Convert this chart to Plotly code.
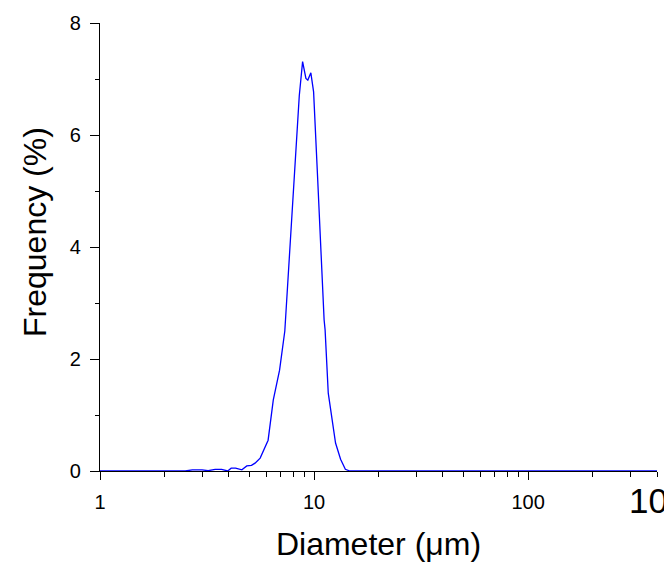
import plotly.graph_objects as go

# Particle size distribution
diameter_um = [1.0, 2.5, 2.7, 3.0, 3.2, 3.45, 3.7, 3.95, 4.1, 4.3, 4.6, 4.85, 5.1, 5.3,
               5.6, 5.9, 6.1, 6.45, 6.9, 7.3, 7.74, 8.16, 8.53, 8.84, 9.16, 9.35, 9.66,
               9.95, 10.3, 10.4, 11.14, 11.26, 11.65, 12.1, 12.6, 13.3, 14.0, 14.7, 400.0]
frequency_pct = [0.0, 0.0, 0.02, 0.02, 0.005, 0.03, 0.03, 0.0, 0.05, 0.05, 0.02, 0.09, 0.1, 0.14,
                 0.23, 0.43, 0.55, 1.27, 1.8, 2.5, 4.04, 5.4, 6.7, 7.31, 7.01, 6.98, 7.11,
                 6.77, 5.4, 5.2, 2.7, 2.52, 1.39, 0.91, 0.5, 0.21, 0.03, 0.0, 0.0]

x_major_ticks = [1, 10, 100]
x_major_labels = ["1", "10", "100"]
x_minor_ticks = [2, 3, 4, 5, 6, 7, 8, 9, 20, 30, 40, 50, 60, 70, 80, 90, 200, 300, 400]
y_major_ticks = [0, 2, 4, 6, 8]
y_minor_ticks = [1, 3, 5, 7]

x_title = "Diameter (μm)"
y_title = "Frequency (%)"
clipped_label = "10"

FONT = "Liberation Sans, Arial, sans-serif"

# page body has an 8px margin; figure sized to fit the 672x562 window
OFF = 8
W, H = 672 - OFF, 562 - OFF
L, T = 100 - OFF, 23 - OFF
PW, PH = 557, 448
R, B = W - L - PW, H - T - PH


def px_x(page_x):
    return (page_x - OFF - L) / PW


def px_y(page_y):
    return (T + PH - (page_y - OFF)) / PH


fig = go.Figure()
fig.add_trace(go.Scatter(
    x=diameter_um, y=frequency_pct, mode="lines",
    line=dict(color="#0000FF", width=1.3),
    showlegend=False,
))

fig.update_layout(
    width=W, height=H,
    margin=dict(l=L, r=R, t=T, b=B, autoexpand=False),
    paper_bgcolor="white", plot_bgcolor="white",
    font=dict(family=FONT, color="black"),
    xaxis=dict(
        type="log", range=[0, 2.602],
        tickmode="array", tickvals=x_major_ticks, ticktext=x_major_labels,
        ticks="outside", ticklen=8, tickwidth=1.2, tickcolor="black",
        minor=dict(tickmode="array", tickvals=x_minor_ticks, ticks="outside",
                   ticklen=5, tickwidth=1.2, tickcolor="black", showgrid=False),
        showline=True, linecolor="black", linewidth=1.3,
        showgrid=False, zeroline=False, layer="below traces",
        tickfont=dict(size=20, family=FONT, color="black"),
        ticklabelstandoff=5,
        title=dict(text=x_title, font=dict(size=32, family=FONT, color="black"), standoff=21),
    ),
    yaxis=dict(
        range=[0, 8],
        tickmode="array", tickvals=y_major_ticks,
        ticks="outside", ticklen=9, tickwidth=1.2, tickcolor="black",
        minor=dict(tickmode="array", tickvals=y_minor_ticks, ticks="outside",
                   ticklen=4, tickwidth=1.2, tickcolor="black", showgrid=False),
        showline=True, linecolor="black", linewidth=1.3,
        showgrid=False, zeroline=False, layer="below traces",
        tickfont=dict(size=20, family=FONT, color="black"),
        ticklabelstandoff=5,
    ),
    annotations=[
        dict(text=y_title, xref="paper", yref="paper",
             x=px_x(35), y=px_y(232), xanchor="center", yanchor="middle",
             textangle=-90, showarrow=False,
             font=dict(size=32, family=FONT, color="black")),
        dict(text=clipped_label, xref="paper", yref="paper",
             x=px_x(627), y=px_y(500), xanchor="left", yanchor="middle",
             showarrow=False, font=dict(size=35, family=FONT, color="black")),
    ],
)

fig.write_html("out.html")
